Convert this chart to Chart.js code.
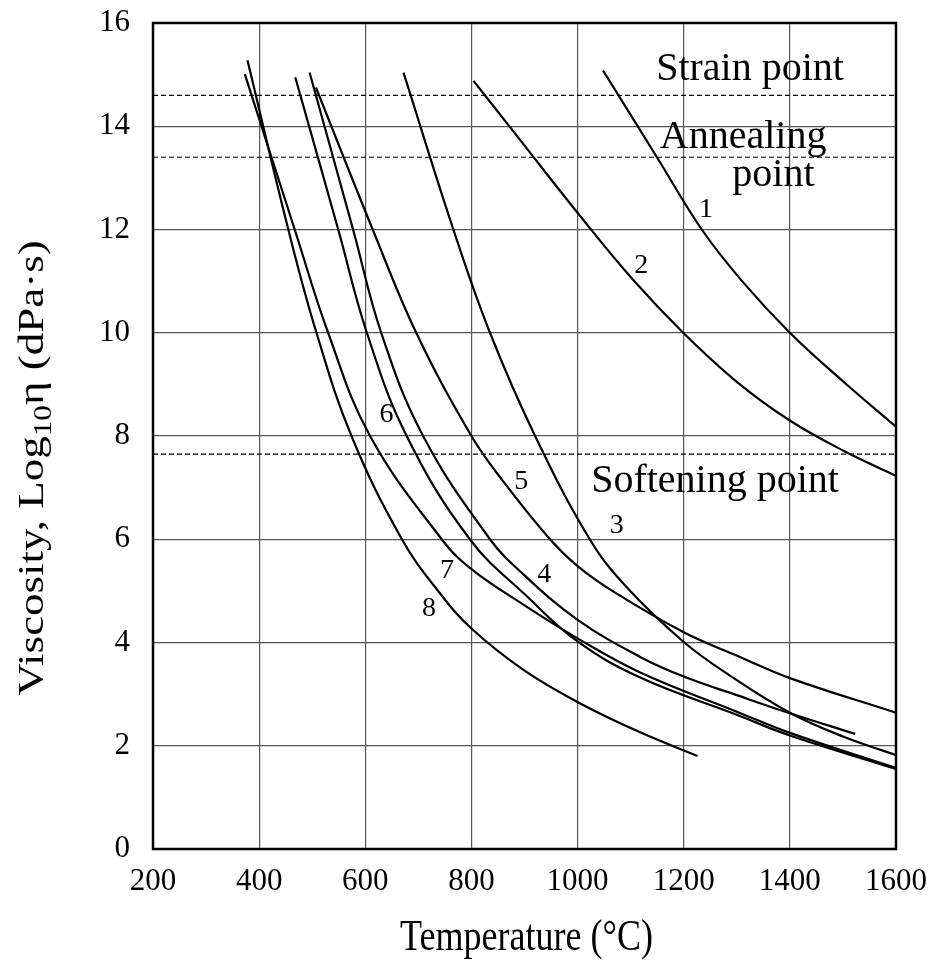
<!DOCTYPE html>
<html>
<head>
<meta charset="utf-8">
<title>Viscosity of glasses vs temperature</title>
<script src="https://cdn.jsdelivr.net/npm/chart.js@4.4.1/dist/chart.umd.min.js"></script>
<style>
  html, body { margin: 0; padding: 0; background: #fff; }
  #wrap { width: 932px; height: 962px; }
</style>
</head>
<body>
<div id="wrap"><canvas id="viscosityChart" width="932" height="962"></canvas></div>
<script>
// axis ticks
var xTicks = [200, 400, 600, 800, 1000, 1200, 1400, 1600];
var yTicks = [0, 2, 4, 6, 8, 10, 12, 14, 16];

// temperature (°C) and log10 viscosity (dPa·s)
var temp1 = [1048, 1149, 1234, 1310, 1400, 1500, 1600];
var visc1 = [15.08, 13.41, 12.0, 11.0, 10.0, 9.06, 8.18];

var temp2 = [804, 892, 1001, 1105, 1199, 1300, 1400, 1500, 1600];
var visc2 = [14.88, 13.73, 12.31, 11.02, 10.0, 9.05, 8.30, 7.72, 7.23];

var temp3 = [672, 766, 835, 920, 1023, 1090, 1199, 1287, 1400, 1500, 1600];
var visc3 = [15.04, 12.0, 10.0, 8.0, 6.0, 5.10, 4.02, 3.36, 2.64, 2.18, 1.82];

var temp4 = [495, 577, 630, 709, 835, 900, 1000, 1118, 1200, 1300, 1400, 1523];
var visc4 = [15.04, 12.0, 10.0, 8.0, 6.0, 5.3, 4.44, 3.72, 3.34, 2.98, 2.63, 2.23];

var temp5 = [507, 614, 696, 800, 860, 948, 1000, 1070, 1200, 1306, 1400, 1600];
var visc5 = [14.75, 12.0, 10.0, 8.0, 7.12, 6.0, 5.48, 4.97, 4.2, 3.72, 3.31, 2.64];

var temp6 = [468, 549, 603, 678, 797, 904, 1000, 1118, 1300, 1400, 1600];
var visc6 = [14.95, 12.0, 10.0, 8.0, 6.0, 4.90, 4.02, 3.32, 2.60, 2.20, 1.55];

var temp7 = [373, 467, 530, 609, 744, 800, 900, 1000, 1118, 1300, 1400, 1600];
var visc7 = [15.01, 12.0, 10.0, 8.0, 6.0, 5.42, 4.72, 4.08, 3.42, 2.66, 2.25, 1.57];

var temp8 = [378, 455, 508, 574, 669, 741, 800, 898, 1005, 1118, 1226];
var visc8 = [15.28, 12.0, 10.0, 8.0, 6.0, 4.95, 4.27, 3.47, 2.82, 2.26, 1.80];

// strain, annealing and softening points (log10 viscosity)
var fixedPointNames = ['Strain point', 'Annealing point', 'Softening point'];
var fixedPointVisc = [14.6, 13.4, 7.65];

var curveNames = ['1', '2', '3', '4', '5', '6', '7', '8'];
var curveTemps = [temp1, temp2, temp3, temp4, temp5, temp6, temp7, temp8];
var curveViscs = [visc1, visc2, visc3, visc4, visc5, visc6, visc7, visc8];

// where the curve numbers and the point names sit, in data units
var numberSpots = [[1242, 12.38], [1120, 11.30], [1074, 6.26], [937, 5.31],
                   [894, 7.11], [640, 8.41], [754, 5.39], [720, 4.66]];
var nameSpots = [
    { text: 'Strain point', t: 1325, v: 14.90 },
    { text: 'Annealing', t: 1312, v: 13.57 },
    { text: 'point', t: 1369, v: 12.84 },
    { text: 'Softening point', t: 1259, v: 6.92 }
];

var serif = '"Liberation Serif", "Times New Roman", serif';

var datasets = [];
curveNames.forEach(function (name, i) {
    datasets.push({
        label: name,
        data: curveTemps[i].map(function (t, j) { return { x: t, y: curveViscs[i][j] }; }),
        showLine: true,
        borderColor: '#000',
        borderWidth: 2.2,
        pointRadius: 0,
        tension: 0.4,
        fill: false
    });
});
fixedPointNames.forEach(function (name, i) {
    datasets.push({
        label: name,
        data: [{ x: xTicks[0], y: fixedPointVisc[i] }, { x: xTicks[xTicks.length - 1], y: fixedPointVisc[i] }],
        showLine: true,
        borderColor: '#000',
        borderWidth: 1.2,
        borderDash: [5, 3],
        pointRadius: 0,
        fill: false
    });
});

// drop the label overhang padding so the plot box stays where the layout puts it
function pinAxis(axis) {
    axis.paddingTop = 0;
    axis.paddingBottom = 0;
    axis.paddingLeft = 0;
    axis.paddingRight = 0;
}

var figureText = {
    id: 'figureText',
    afterDatasetsDraw: function (chart) {
        var ctx = chart.ctx;
        var sx = chart.scales.x, sy = chart.scales.y;
        var area = chart.chartArea;
        ctx.save();
        ctx.fillStyle = '#000';

        ctx.font = '28px ' + serif;
        ctx.textAlign = 'center';
        ctx.textBaseline = 'middle';
        curveNames.forEach(function (name, i) {
            ctx.fillText(name, sx.getPixelForValue(numberSpots[i][0]), sy.getPixelForValue(numberSpots[i][1]));
        });

        ctx.font = '40px ' + serif;
        ctx.textBaseline = 'alphabetic';
        nameSpots.forEach(function (s) {
            ctx.fillText(s.text, sx.getPixelForValue(s.t), sy.getPixelForValue(s.v));
        });

        // frame round the plot
        ctx.strokeStyle = '#000';
        ctx.lineWidth = 2.5;
        ctx.strokeRect(area.left, area.top, area.right - area.left, area.bottom - area.top);
        ctx.restore();
    },
    afterDraw: function (chart) {
        var ctx = chart.ctx;
        var area = chart.chartArea;
        ctx.save();
        ctx.fillStyle = '#000';

        // x axis title
        ctx.font = '36px ' + serif;
        ctx.textAlign = 'center';
        ctx.textBaseline = 'alphabetic';
        ctx.save();
        ctx.translate((area.left + area.right) / 2 + 2, 950);
        ctx.scale(1, 1.25);
        ctx.fillText('Temperature (°C)', 0, 0);
        ctx.restore();

        // y axis title with subscript
        var big = '36px ' + serif, small = '25px ' + serif;
        ctx.font = big;
        var w1 = ctx.measureText('Viscosity, Log').width;
        var w3 = ctx.measureText('η (dPa·s)').width;
        ctx.font = small;
        var w2 = ctx.measureText('10').width;
        var start = -(w1 + w2 + w3) / 2;
        ctx.translate(43, 468);
        ctx.rotate(-Math.PI / 2);
        ctx.scale(1.25, 1);
        ctx.textAlign = 'left';
        ctx.font = big;
        ctx.fillText('Viscosity, Log', start, 0);
        ctx.font = small;
        ctx.fillText('10', start + w1, 8);
        ctx.font = big;
        ctx.fillText('η (dPa·s)', start + w1 + w2, 0);
        ctx.restore();
    }
};

var ctx = document.getElementById('viscosityChart').getContext('2d');
var viscosityChart = new Chart(ctx, {
    type: 'scatter',
    data: { datasets: datasets },
    plugins: [figureText],
    options: {
        responsive: false,
        devicePixelRatio: 1,
        animation: false,
        layout: { padding: { top: 23, right: 36, bottom: 0, left: 0 } },
        plugins: {
            legend: { display: false },
            tooltip: { enabled: false }
        },
        scales: {
            x: {
                type: 'linear',
                min: xTicks[0],
                max: xTicks[xTicks.length - 1],
                afterBuildTicks: function (axis) {
                    axis.ticks = xTicks.map(function (v) { return { value: v }; });
                },
                afterFit: function (axis) { axis.height = 113; pinAxis(axis); },
                grid: { color: '#555', lineWidth: 1.2, drawTicks: false },
                border: { display: false },
                ticks: {
                    color: '#000',
                    padding: 14,
                    maxRotation: 0,
                    font: { family: serif, size: 31 },
                    callback: function (value) { return String(value); }
                }
            },
            y: {
                type: 'linear',
                min: yTicks[0],
                max: yTicks[yTicks.length - 1],
                afterBuildTicks: function (axis) {
                    axis.ticks = yTicks.map(function (v) { return { value: v }; });
                },
                afterFit: function (axis) { axis.width = 153; pinAxis(axis); },
                grid: { color: '#555', lineWidth: 1.2, drawTicks: false },
                border: { display: false },
                ticks: {
                    color: '#000',
                    padding: 23,
                    font: { family: serif, size: 31 },
                    callback: function (value) { return String(value); }
                }
            }
        }
    }
});
</script>
</body>
</html>
